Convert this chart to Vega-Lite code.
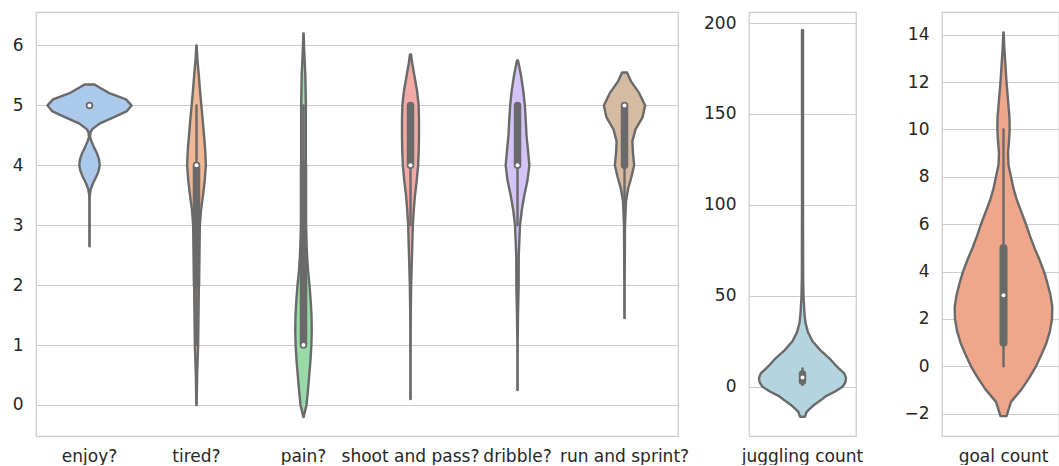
{
  "$schema": "https://vega.github.io/schema/vega-lite/v6.json",
  "background": "white",
  "padding": {"left": 11, "top": 11, "right": 1, "bottom": 0},
  "spacing": 12,
  "datasets": {
    "outline": [
      {"var": "enjoy?", "value": 2.65, "density": 0.003},
      {"var": "enjoy?", "value": 3.0, "density": 0.003},
      {"var": "enjoy?", "value": 3.4, "density": 0.003},
      {"var": "enjoy?", "value": 3.5, "density": 0.005},
      {"var": "enjoy?", "value": 3.6, "density": 0.025},
      {"var": "enjoy?", "value": 3.7, "density": 0.07},
      {"var": "enjoy?", "value": 3.8, "density": 0.13},
      {"var": "enjoy?", "value": 3.9, "density": 0.18},
      {"var": "enjoy?", "value": 4.0, "density": 0.205},
      {"var": "enjoy?", "value": 4.1, "density": 0.19},
      {"var": "enjoy?", "value": 4.2, "density": 0.15},
      {"var": "enjoy?", "value": 4.3, "density": 0.09},
      {"var": "enjoy?", "value": 4.4, "density": 0.04},
      {"var": "enjoy?", "value": 4.47, "density": 0.01},
      {"var": "enjoy?", "value": 4.55, "density": 0.02},
      {"var": "enjoy?", "value": 4.6, "density": 0.05},
      {"var": "enjoy?", "value": 4.7, "density": 0.21},
      {"var": "enjoy?", "value": 4.8, "density": 0.48},
      {"var": "enjoy?", "value": 4.9, "density": 0.74},
      {"var": "enjoy?", "value": 5.0, "density": 0.84},
      {"var": "enjoy?", "value": 5.1, "density": 0.73},
      {"var": "enjoy?", "value": 5.2, "density": 0.41},
      {"var": "enjoy?", "value": 5.3, "density": 0.2},
      {"var": "enjoy?", "value": 5.35, "density": 0.1},

      {"var": "tired?", "value": 0.0, "density": 0.003},
      {"var": "tired?", "value": 0.5, "density": 0.013},
      {"var": "tired?", "value": 1.0, "density": 0.033},
      {"var": "tired?", "value": 1.5, "density": 0.04},
      {"var": "tired?", "value": 2.0, "density": 0.047},
      {"var": "tired?", "value": 2.5, "density": 0.057},
      {"var": "tired?", "value": 3.0, "density": 0.067},
      {"var": "tired?", "value": 3.25, "density": 0.09},
      {"var": "tired?", "value": 3.5, "density": 0.13},
      {"var": "tired?", "value": 3.75, "density": 0.165},
      {"var": "tired?", "value": 4.0, "density": 0.187},
      {"var": "tired?", "value": 4.25, "density": 0.175},
      {"var": "tired?", "value": 4.5, "density": 0.15},
      {"var": "tired?", "value": 4.75, "density": 0.125},
      {"var": "tired?", "value": 5.0, "density": 0.097},
      {"var": "tired?", "value": 5.25, "density": 0.07},
      {"var": "tired?", "value": 5.5, "density": 0.047},
      {"var": "tired?", "value": 5.75, "density": 0.02},
      {"var": "tired?", "value": 6.0, "density": 0.003},

      {"var": "pain?", "value": -0.2, "density": 0.003},
      {"var": "pain?", "value": 0.0, "density": 0.06},
      {"var": "pain?", "value": 0.25, "density": 0.09},
      {"var": "pain?", "value": 0.5, "density": 0.115},
      {"var": "pain?", "value": 0.75, "density": 0.14},
      {"var": "pain?", "value": 1.0, "density": 0.158},
      {"var": "pain?", "value": 1.25, "density": 0.165},
      {"var": "pain?", "value": 1.5, "density": 0.16},
      {"var": "pain?", "value": 1.75, "density": 0.143},
      {"var": "pain?", "value": 2.0, "density": 0.12},
      {"var": "pain?", "value": 2.25, "density": 0.09},
      {"var": "pain?", "value": 2.5, "density": 0.07},
      {"var": "pain?", "value": 3.0, "density": 0.047},
      {"var": "pain?", "value": 3.5, "density": 0.045},
      {"var": "pain?", "value": 4.0, "density": 0.047},
      {"var": "pain?", "value": 4.5, "density": 0.047},
      {"var": "pain?", "value": 5.0, "density": 0.047},
      {"var": "pain?", "value": 5.5, "density": 0.037},
      {"var": "pain?", "value": 5.9, "density": 0.015},
      {"var": "pain?", "value": 6.2, "density": 0.003},

      {"var": "shoot and pass?", "value": 0.1, "density": 0.003},
      {"var": "shoot and pass?", "value": 1.0, "density": 0.003},
      {"var": "shoot and pass?", "value": 1.5, "density": 0.005},
      {"var": "shoot and pass?", "value": 2.0, "density": 0.013},
      {"var": "shoot and pass?", "value": 2.5, "density": 0.03},
      {"var": "shoot and pass?", "value": 3.0, "density": 0.047},
      {"var": "shoot and pass?", "value": 3.25, "density": 0.065},
      {"var": "shoot and pass?", "value": 3.5, "density": 0.09},
      {"var": "shoot and pass?", "value": 3.75, "density": 0.125},
      {"var": "shoot and pass?", "value": 4.0, "density": 0.153},
      {"var": "shoot and pass?", "value": 4.25, "density": 0.165},
      {"var": "shoot and pass?", "value": 4.5, "density": 0.17},
      {"var": "shoot and pass?", "value": 4.75, "density": 0.17},
      {"var": "shoot and pass?", "value": 5.0, "density": 0.163},
      {"var": "shoot and pass?", "value": 5.25, "density": 0.13},
      {"var": "shoot and pass?", "value": 5.5, "density": 0.077},
      {"var": "shoot and pass?", "value": 5.7, "density": 0.035},
      {"var": "shoot and pass?", "value": 5.85, "density": 0.01},

      {"var": "dribble?", "value": 0.25, "density": 0.003},
      {"var": "dribble?", "value": 1.0, "density": 0.003},
      {"var": "dribble?", "value": 1.5, "density": 0.01},
      {"var": "dribble?", "value": 2.0, "density": 0.023},
      {"var": "dribble?", "value": 2.5, "density": 0.025},
      {"var": "dribble?", "value": 3.0, "density": 0.05},
      {"var": "dribble?", "value": 3.25, "density": 0.085},
      {"var": "dribble?", "value": 3.5, "density": 0.137},
      {"var": "dribble?", "value": 3.75, "density": 0.2},
      {"var": "dribble?", "value": 4.0, "density": 0.237},
      {"var": "dribble?", "value": 4.25, "density": 0.21},
      {"var": "dribble?", "value": 4.5, "density": 0.18},
      {"var": "dribble?", "value": 4.75, "density": 0.165},
      {"var": "dribble?", "value": 5.0, "density": 0.147},
      {"var": "dribble?", "value": 5.25, "density": 0.115},
      {"var": "dribble?", "value": 5.5, "density": 0.07},
      {"var": "dribble?", "value": 5.65, "density": 0.035},
      {"var": "dribble?", "value": 5.75, "density": 0.01},

      {"var": "run and sprint?", "value": 1.45, "density": 0.003},
      {"var": "run and sprint?", "value": 2.0, "density": 0.003},
      {"var": "run and sprint?", "value": 3.0, "density": 0.01},
      {"var": "run and sprint?", "value": 3.4, "density": 0.03},
      {"var": "run and sprint?", "value": 3.6, "density": 0.07},
      {"var": "run and sprint?", "value": 3.8, "density": 0.137},
      {"var": "run and sprint?", "value": 4.0, "density": 0.193},
      {"var": "run and sprint?", "value": 4.2, "density": 0.17},
      {"var": "run and sprint?", "value": 4.4, "density": 0.157},
      {"var": "run and sprint?", "value": 4.6, "density": 0.22},
      {"var": "run and sprint?", "value": 4.8, "density": 0.36},
      {"var": "run and sprint?", "value": 5.0, "density": 0.413},
      {"var": "run and sprint?", "value": 5.2, "density": 0.297},
      {"var": "run and sprint?", "value": 5.4, "density": 0.13},
      {"var": "run and sprint?", "value": 5.55, "density": 0.05},

      {"var": "juggling count", "value": -16.5, "density": 0.05},
      {"var": "juggling count", "value": -14, "density": 0.08},
      {"var": "juggling count", "value": -12, "density": 0.15},
      {"var": "juggling count", "value": -10, "density": 0.23},
      {"var": "juggling count", "value": -7.5, "density": 0.36},
      {"var": "juggling count", "value": -5, "density": 0.48},
      {"var": "juggling count", "value": -2.5, "density": 0.66},
      {"var": "juggling count", "value": 0, "density": 0.8},
      {"var": "juggling count", "value": 2.5, "density": 0.86},
      {"var": "juggling count", "value": 5, "density": 0.87},
      {"var": "juggling count", "value": 7.5, "density": 0.83},
      {"var": "juggling count", "value": 10, "density": 0.73},
      {"var": "juggling count", "value": 12.5, "density": 0.64},
      {"var": "juggling count", "value": 15, "density": 0.56},
      {"var": "juggling count", "value": 17.5, "density": 0.46},
      {"var": "juggling count", "value": 20, "density": 0.36},
      {"var": "juggling count", "value": 25, "density": 0.2},
      {"var": "juggling count", "value": 30, "density": 0.11},
      {"var": "juggling count", "value": 35, "density": 0.06},
      {"var": "juggling count", "value": 40, "density": 0.04},
      {"var": "juggling count", "value": 50, "density": 0.02},
      {"var": "juggling count", "value": 60, "density": 0.013},
      {"var": "juggling count", "value": 100, "density": 0.01},
      {"var": "juggling count", "value": 150, "density": 0.01},
      {"var": "juggling count", "value": 196, "density": 0.01},

      {"var": "goal count", "value": -2.1, "density": 0.06},
      {"var": "goal count", "value": -1.5, "density": 0.15},
      {"var": "goal count", "value": -1, "density": 0.35},
      {"var": "goal count", "value": -0.5, "density": 0.51},
      {"var": "goal count", "value": 0, "density": 0.65},
      {"var": "goal count", "value": 0.5, "density": 0.76},
      {"var": "goal count", "value": 1, "density": 0.86},
      {"var": "goal count", "value": 1.5, "density": 0.93},
      {"var": "goal count", "value": 2, "density": 0.97},
      {"var": "goal count", "value": 2.5, "density": 0.976},
      {"var": "goal count", "value": 3, "density": 0.94},
      {"var": "goal count", "value": 3.5, "density": 0.88},
      {"var": "goal count", "value": 4, "density": 0.81},
      {"var": "goal count", "value": 4.5, "density": 0.72},
      {"var": "goal count", "value": 5, "density": 0.62},
      {"var": "goal count", "value": 5.5, "density": 0.53},
      {"var": "goal count", "value": 6, "density": 0.45},
      {"var": "goal count", "value": 6.5, "density": 0.36},
      {"var": "goal count", "value": 7, "density": 0.27},
      {"var": "goal count", "value": 7.5, "density": 0.2},
      {"var": "goal count", "value": 8, "density": 0.15},
      {"var": "goal count", "value": 8.5, "density": 0.1},
      {"var": "goal count", "value": 9, "density": 0.09},
      {"var": "goal count", "value": 9.5, "density": 0.11},
      {"var": "goal count", "value": 10, "density": 0.123},
      {"var": "goal count", "value": 10.5, "density": 0.12},
      {"var": "goal count", "value": 11, "density": 0.1},
      {"var": "goal count", "value": 11.5, "density": 0.08},
      {"var": "goal count", "value": 12, "density": 0.06},
      {"var": "goal count", "value": 12.5, "density": 0.045},
      {"var": "goal count", "value": 13, "density": 0.03},
      {"var": "goal count", "value": 13.5, "density": 0.015},
      {"var": "goal count", "value": 14.1, "density": 0.003}
    ],
    "stats": [
      {"var": "enjoy?", "lo": 5, "q1": 5, "median": 5, "q3": 5, "hi": 5},
      {"var": "tired?", "lo": 1, "q1": 2, "median": 4, "q3": 4, "hi": 5},
      {"var": "pain?", "lo": 1, "q1": 1, "median": 1, "q3": 4, "hi": 5},
      {"var": "shoot and pass?", "lo": 3, "q1": 4, "median": 4, "q3": 5, "hi": 5},
      {"var": "dribble?", "lo": 3, "q1": 4, "median": 4, "q3": 5, "hi": 5},
      {"var": "run and sprint?", "lo": 3, "q1": 4, "median": 5, "q3": 5, "hi": 5},
      {"var": "juggling count", "lo": 1, "q1": 3, "median": 5, "q3": 7, "hi": 10},
      {"var": "goal count", "lo": 0, "q1": 1, "median": 3, "q3": 5, "hi": 10}
    ]
  },
  "hconcat": [
    {
      "width": 642,
      "height": 424,
      "resolve": {"scale": {"x": "independent"}, "axis": {"x": "independent"}},
      "layer": [
        {
          "data": {"name": "outline"},
          "transform": [{"filter": "datum.var === 'enjoy?'"}],
          "mark": {"type": "area", "orient": "horizontal", "fill": "#abc9ea", "stroke": "#6a6a6a", "strokeWidth": 2.4, "strokeJoin": "round"},
          "encoding": {
            "y": {"field": "value", "type": "quantitative", "scale": {"domain": [-0.518, 6.559], "nice": false, "zero": false}, "axis": {"values": [0, 1, 2, 3, 4, 5, 6], "title": null}},
            "x": {"field": "density", "type": "quantitative", "stack": "center", "impute": null, "scale": {"domain": [-0.115, 6.305], "nice": false, "zero": false}, "axis": null}
          }
        },
        {
          "data": {"name": "outline"},
          "transform": [{"filter": "datum.var === 'tired?'"}],
          "mark": {"type": "area", "orient": "horizontal", "fill": "#efb792", "stroke": "#6a6a6a", "strokeWidth": 2.4, "strokeJoin": "round"},
          "encoding": {
            "y": {"field": "value", "type": "quantitative", "scale": {"domain": [-0.518, 6.559], "nice": false, "zero": false}, "axis": {"values": [0, 1, 2, 3, 4, 5, 6], "title": null}},
            "x": {"field": "density", "type": "quantitative", "stack": "center", "impute": null, "scale": {"domain": [-1.5115, 4.9085], "nice": false, "zero": false}, "axis": null}
          }
        },
        {
          "data": {"name": "outline"},
          "transform": [{"filter": "datum.var === 'pain?'"}],
          "mark": {"type": "area", "orient": "horizontal", "fill": "#98daa7", "stroke": "#6a6a6a", "strokeWidth": 2.4, "strokeJoin": "round"},
          "encoding": {
            "y": {"field": "value", "type": "quantitative", "scale": {"domain": [-0.518, 6.559], "nice": false, "zero": false}, "axis": {"values": [0, 1, 2, 3, 4, 5, 6], "title": null}},
            "x": {"field": "density", "type": "quantitative", "stack": "center", "impute": null, "scale": {"domain": [-2.5925, 3.8275], "nice": false, "zero": false}, "axis": null}
          }
        },
        {
          "data": {"name": "outline"},
          "transform": [{"filter": "datum.var === 'shoot and pass?'"}],
          "mark": {"type": "area", "orient": "horizontal", "fill": "#f2aaa7", "stroke": "#6a6a6a", "strokeWidth": 2.4, "strokeJoin": "round"},
          "encoding": {
            "y": {"field": "value", "type": "quantitative", "scale": {"domain": [-0.518, 6.559], "nice": false, "zero": false}, "axis": {"values": [0, 1, 2, 3, 4, 5, 6], "title": null}},
            "x": {"field": "density", "type": "quantitative", "stack": "center", "impute": null, "scale": {"domain": [-3.66, 2.76], "nice": false, "zero": false}, "axis": null}
          }
        },
        {
          "data": {"name": "outline"},
          "transform": [{"filter": "datum.var === 'dribble?'"}],
          "mark": {"type": "area", "orient": "horizontal", "fill": "#d3c3f6", "stroke": "#6a6a6a", "strokeWidth": 2.4, "strokeJoin": "round"},
          "encoding": {
            "y": {"field": "value", "type": "quantitative", "scale": {"domain": [-0.518, 6.559], "nice": false, "zero": false}, "axis": {"values": [0, 1, 2, 3, 4, 5, 6], "title": null}},
            "x": {"field": "density", "type": "quantitative", "stack": "center", "impute": null, "scale": {"domain": [-4.6965, 1.7235], "nice": false, "zero": false}, "axis": null}
          }
        },
        {
          "data": {"name": "outline"},
          "transform": [{"filter": "datum.var === 'run and sprint?'"}],
          "mark": {"type": "area", "orient": "horizontal", "fill": "#d6bba3", "stroke": "#6a6a6a", "strokeWidth": 2.4, "strokeJoin": "round"},
          "encoding": {
            "y": {"field": "value", "type": "quantitative", "scale": {"domain": [-0.518, 6.559], "nice": false, "zero": false}, "axis": {"values": [0, 1, 2, 3, 4, 5, 6], "title": null}},
            "x": {"field": "density", "type": "quantitative", "stack": "center", "impute": null, "scale": {"domain": [-5.6785, 0.7415], "nice": false, "zero": false}, "axis": null}
          }
        },
        {
          "data": {"name": "stats"},
          "transform": [{"filter": "datum.var !== 'juggling count' && datum.var !== 'goal count'"}],
          "encoding": {
            "x": {"field": "var", "type": "nominal", "sort": ["enjoy?", "tired?", "pain?", "shoot and pass?", "dribble?", "run and sprint?"], "scale": {"paddingInner": 0, "paddingOuter": 0}, "axis": {"title": null, "labelAngle": 0}}
          },
          "layer": [
            {
              "mark": {"type": "rule", "stroke": "#6a6a6a", "strokeWidth": 2.4, "strokeCap": "round"},
              "encoding": {
                "y": {"field": "lo", "type": "quantitative", "scale": {"domain": [-0.518, 6.559], "nice": false, "zero": false}, "axis": {"values": [0, 1, 2, 3, 4, 5, 6], "title": null}},
                "y2": {"field": "hi"}
              }
            },
            {
              "mark": {"type": "rule", "stroke": "#6a6a6a", "strokeWidth": 7.5, "strokeCap": "round"},
              "encoding": {
                "y": {"field": "q1", "type": "quantitative", "scale": {"domain": [-0.518, 6.559], "nice": false, "zero": false}, "axis": {"values": [0, 1, 2, 3, 4, 5, 6], "title": null}},
                "y2": {"field": "q3"}
              }
            },
            {
              "mark": {"type": "point", "filled": true, "fill": "white", "size": 16, "opacity": 1, "strokeWidth": 0},
              "encoding": {
                "y": {"field": "median", "type": "quantitative", "scale": {"domain": [-0.518, 6.559], "nice": false, "zero": false}, "axis": {"values": [0, 1, 2, 3, 4, 5, 6], "title": null}}
              }
            }
          ]
        }
      ]
    },
    {
      "spacing": 39,
      "hconcat": [
        {
          "width": 107,
          "height": 424,
          "resolve": {"scale": {"x": "independent"}, "axis": {"x": "independent"}},
          "layer": [
            {
              "data": {"name": "outline"},
              "transform": [{"filter": "datum.var === 'juggling count'"}],
              "mark": {"type": "area", "orient": "horizontal", "fill": "#b4d4df", "stroke": "#6a6a6a", "strokeWidth": 2.4, "strokeJoin": "round"},
              "encoding": {
                "y": {"field": "value", "type": "quantitative", "scale": {"domain": [-27.1, 206.05], "nice": false, "zero": false}, "axis": {"values": [0, 50, 100, 150, 200], "title": null}},
                "x": {"field": "density", "type": "quantitative", "stack": "center", "impute": null, "scale": {"domain": [-0.1, 0.97], "nice": false, "zero": false}, "axis": null}
              }
            },
            {
              "data": {"name": "stats"},
              "transform": [{"filter": "datum.var === 'juggling count'"}],
              "encoding": {
                "x": {"field": "var", "type": "nominal", "scale": {"paddingInner": 0, "paddingOuter": 0}, "axis": {"title": null, "labelAngle": 0}}
              },
              "layer": [
                {
                  "mark": {"type": "rule", "stroke": "#6a6a6a", "strokeWidth": 2.4, "strokeCap": "round"},
                  "encoding": {
                    "y": {"field": "lo", "type": "quantitative", "scale": {"domain": [-27.1, 206.05], "nice": false, "zero": false}, "axis": {"values": [0, 50, 100, 150, 200], "title": null}},
                    "y2": {"field": "hi"}
                  }
                },
                {
                  "mark": {"type": "rule", "stroke": "#6a6a6a", "strokeWidth": 7.5, "strokeCap": "round"},
                  "encoding": {
                    "y": {"field": "q1", "type": "quantitative", "scale": {"domain": [-27.1, 206.05], "nice": false, "zero": false}, "axis": {"values": [0, 50, 100, 150, 200], "title": null}},
                    "y2": {"field": "q3"}
                  }
                },
                {
                  "mark": {"type": "point", "filled": true, "fill": "white", "size": 16, "opacity": 1, "strokeWidth": 0},
                  "encoding": {
                    "y": {"field": "median", "type": "quantitative", "scale": {"domain": [-27.1, 206.05], "nice": false, "zero": false}, "axis": {"values": [0, 50, 100, 150, 200], "title": null}}
                  }
                }
              ]
            }
          ]
        },
        {
          "width": 117,
          "height": 424,
          "resolve": {"scale": {"x": "independent"}, "axis": {"x": "independent"}},
          "layer": [
            {
              "data": {"name": "outline"},
              "transform": [{"filter": "datum.var === 'goal count'"}],
              "mark": {"type": "area", "orient": "horizontal", "fill": "#eea78b", "stroke": "#6a6a6a", "strokeWidth": 2.4, "strokeJoin": "round"},
              "encoding": {
                "y": {"field": "value", "type": "quantitative", "scale": {"domain": [-2.94, 14.96], "nice": false, "zero": false}, "axis": {"values": [-2, 0, 2, 4, 6, 8, 10, 12, 14], "title": null}},
                "x": {"field": "density", "type": "quantitative", "stack": "center", "impute": null, "scale": {"domain": [-0.127, 1.043], "nice": false, "zero": false}, "axis": null}
              }
            },
            {
              "data": {"name": "stats"},
              "transform": [{"filter": "datum.var === 'goal count'"}],
              "encoding": {
                "x": {"field": "var", "type": "nominal", "scale": {"paddingInner": 0, "paddingOuter": 0.5, "align": 0.5513}, "axis": {"title": null, "labelAngle": 0}}
              },
              "layer": [
                {
                  "mark": {"type": "rule", "stroke": "#6a6a6a", "strokeWidth": 2.4, "strokeCap": "round"},
                  "encoding": {
                    "y": {"field": "lo", "type": "quantitative", "scale": {"domain": [-2.94, 14.96], "nice": false, "zero": false}, "axis": {"values": [-2, 0, 2, 4, 6, 8, 10, 12, 14], "title": null}},
                    "y2": {"field": "hi"}
                  }
                },
                {
                  "mark": {"type": "rule", "stroke": "#6a6a6a", "strokeWidth": 8, "strokeCap": "round"},
                  "encoding": {
                    "y": {"field": "q1", "type": "quantitative", "scale": {"domain": [-2.94, 14.96], "nice": false, "zero": false}, "axis": {"values": [-2, 0, 2, 4, 6, 8, 10, 12, 14], "title": null}},
                    "y2": {"field": "q3"}
                  }
                },
                {
                  "mark": {"type": "point", "filled": true, "fill": "white", "size": 16, "opacity": 1, "strokeWidth": 0},
                  "encoding": {
                    "y": {"field": "median", "type": "quantitative", "scale": {"domain": [-2.94, 14.96], "nice": false, "zero": false}, "axis": {"values": [-2, 0, 2, 4, 6, 8, 10, 12, 14], "title": null}}
                  }
                }
              ]
            }
          ]
        }
      ]
    }
  ],
  "config": {
    "font": "DejaVu Sans",
    "view": {"stroke": "#cccccc", "strokeWidth": 1.25},
    "axis": {"domain": false, "ticks": false, "tickSize": 0, "labelFont": "DejaVu Sans", "labelFontSize": 17, "labelColor": "#262626", "gridColor": "#cccccc", "gridWidth": 1},
    "axisX": {"labelPadding": 12, "labelAngle": 0, "grid": false},
    "axisY": {"labelPadding": 13, "grid": true}
  }
}
